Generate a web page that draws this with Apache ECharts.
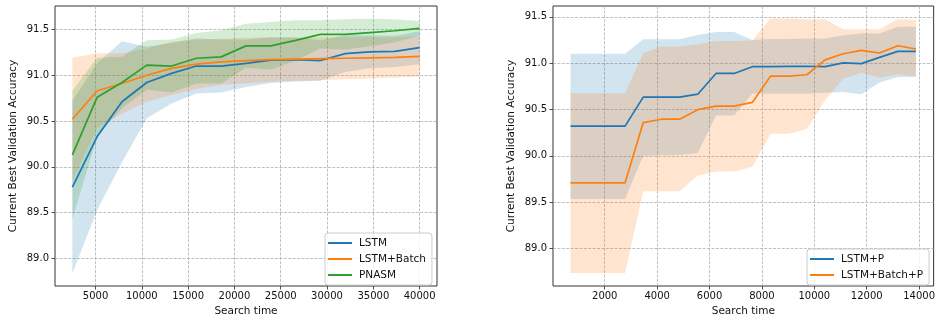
<!DOCTYPE html>
<html><head><meta charset="utf-8">
<script src="https://cdn.jsdelivr.net/npm/echarts@6/dist/echarts.min.js"></script>
<style>html,body{margin:0;padding:0;background:#fff}#c{width:938px;height:322px}</style>
</head><body><div id="c"></div>
<script>
// ---------- Left panel data ----------
const leftTime = [2500, 5179, 7857, 10536, 13214, 15893, 18571, 21250, 23929, 26607, 29286, 31964, 34643, 37321, 40000];
const lstmMean = [89.78, 90.33, 90.71, 90.92, 91.02, 91.10, 91.10, 91.13, 91.165, 91.17, 91.16, 91.235, 91.255, 91.26, 91.30];
const lstmLow  = [88.84, 89.53, 90.05, 90.53, 90.69, 90.80, 90.81, 90.87, 90.915, 90.93, 90.94, 91.035, 91.075, 91.09, 91.12];
const lstmHigh = [90.72, 91.13, 91.37, 91.31, 91.35, 91.40, 91.39, 91.39, 91.415, 91.41, 91.38, 91.435, 91.435, 91.43, 91.48];
const batchMean = [90.52, 90.83, 90.91, 91.00, 91.075, 91.12, 91.145, 91.16, 91.17, 91.175, 91.18, 91.185, 91.19, 91.195, 91.205];
const batchLow  = [89.85, 90.42, 90.58, 90.71, 90.785, 90.85, 90.895, 90.91, 90.93, 90.94, 90.945, 90.955, 90.965, 90.975, 90.985];
const batchHigh = [91.19, 91.24, 91.24, 91.29, 91.365, 91.39, 91.395, 91.41, 91.41, 91.41, 91.415, 91.415, 91.415, 91.415, 91.425];
const pnasmMean = [90.13, 90.76, 90.92, 91.11, 91.10, 91.185, 91.20, 91.32, 91.32, 91.38, 91.445, 91.445, 91.465, 91.485, 91.51];
const pnasmLow  = [89.43, 90.33, 90.64, 90.84, 90.81, 90.91, 90.91, 91.08, 91.06, 91.16, 91.29, 91.28, 91.315, 91.36, 91.43];
const pnasmHigh = [90.83, 91.19, 91.20, 91.38, 91.39, 91.46, 91.49, 91.56, 91.58, 91.60, 91.60, 91.61, 91.615, 91.61, 91.59];
const leftXTicks = [5000, 10000, 15000, 20000, 25000, 30000, 35000, 40000];
const leftYTicks = [89.0, 89.5, 90.0, 90.5, 91.0, 91.5];

// ---------- Right panel data ----------
const rightTime = [694, 1388, 2082, 2776, 3470, 4164, 4858, 5552, 6246, 6940, 7634, 8328, 9022, 9716, 10410, 11104, 11798, 12492, 13186, 13880];
const lstmPMean = [90.32, 90.32, 90.32, 90.32, 90.633, 90.633, 90.633, 90.665, 90.889, 90.889, 90.962, 90.963, 90.966, 90.967, 90.963, 91.003, 90.995, 91.063, 91.127, 91.127];
const lstmPLow  = [89.535, 89.535, 89.535, 89.535, 90.0, 90.005, 90.01, 90.03, 90.434, 90.434, 90.673, 90.67, 90.67, 90.67, 90.68, 90.69, 90.665, 90.79, 90.85, 90.85];
const lstmPHigh = [91.102, 91.102, 91.102, 91.102, 91.258, 91.258, 91.258, 91.305, 91.337, 91.337, 91.25, 91.26, 91.26, 91.266, 91.266, 91.30, 91.32, 91.32, 91.393, 91.393];
const batchPMean = [89.709, 89.709, 89.709, 89.709, 90.359, 90.395, 90.395, 90.498, 90.537, 90.537, 90.576, 90.86, 90.86, 90.875, 91.036, 91.102, 91.138, 91.11, 91.188, 91.153];
const batchPLow  = [88.736, 88.736, 88.736, 88.736, 89.617, 89.617, 89.617, 89.788, 89.83, 89.83, 89.883, 90.238, 90.238, 90.29, 90.60, 90.833, 90.896, 90.843, 90.88, 90.86];
const batchPHigh = [90.676, 90.676, 90.676, 90.676, 91.11, 91.18, 91.18, 91.205, 91.24, 91.24, 91.245, 91.483, 91.483, 91.47, 91.475, 91.366, 91.366, 91.366, 91.475, 91.465];
const rightXTicks = [2000, 4000, 6000, 8000, 10000, 12000, 14000];
const rightYTicks = [89.0, 89.5, 90.0, 90.5, 91.0, 91.5];

// ---------- Styling ----------
const C0 = '#1f77b4', C1 = '#ff7f0e', C2 = '#2ca02c';
const F0 = 'rgba(31,119,180,0.2)', F1 = 'rgba(255,127,14,0.2)', F2 = 'rgba(44,160,44,0.2)';
const FONT = 'DejaVu Sans';
const TXT = '#111';

function pairs(xs, ys) { return xs.map((x, i) => [x, ys[i]]); }

function bandSeries(xs, lo, hi, fill, gi, z) {
  const data = xs.map((x, i) => [x, lo[i], hi[i]]);
  return {
    type: 'custom', xAxisIndex: gi, yAxisIndex: gi, silent: true, z: z,
    data: data, encode: { x: 0, y: [1, 2] },
    renderItem: function (params, api) {
      if (params.dataIndex !== 0) return;
      const top = data.map(d => api.coord([d[0], d[2]]));
      const bot = data.map(d => api.coord([d[0], d[1]])).reverse();
      return { type: 'polygon', shape: { points: top.concat(bot) }, style: { fill: fill } };
    }
  };
}
function lineSeries(name, xs, ys, color, gi, z) {
  return {
    type: 'line', name: name, xAxisIndex: gi, yAxisIndex: gi, data: pairs(xs, ys),
    symbol: 'none', z: z, color: color,
    lineStyle: { color: color, width: 1.7 }
  };
}

function xAxisCfg(gi, min, max, ticks) {
  return {
    gridIndex: gi, type: 'value', min: min, max: max,
    axisLine: { show: false },
    axisTick: { show: true, customValues: ticks, length: 3.5, lineStyle: { color: '#222', width: 0.8 } },
    axisLabel: { customValues: ticks, margin: 5, fontSize: 10, fontFamily: FONT, color: TXT,
      formatter: v => String(Math.round(v)) },
    splitLine: { show: true, lineStyle: { color: '#b0b0b0', width: 0.8, type: [3, 1.4] } },
    name: 'Search time', nameLocation: 'middle', nameGap: 20,
    nameTextStyle: { fontSize: 10.5, fontFamily: FONT, color: TXT }
  };
}
function yAxisCfg(gi, min, max, ticks) {
  return {
    gridIndex: gi, type: 'value', min: min, max: max,
    axisLine: { show: false },
    axisTick: { show: true, customValues: ticks, length: 3.5, lineStyle: { color: '#222', width: 0.8 } },
    axisLabel: { customValues: ticks, margin: 6, fontSize: 10, fontFamily: FONT, color: TXT,
      formatter: v => Number(v).toFixed(1) },
    splitLine: { show: true, lineStyle: { color: '#b0b0b0', width: 0.8, type: [3, 1.4] } },
    name: 'Current Best Validation Accuracy', nameLocation: 'middle', nameGap: 36,
    nameTextStyle: { fontSize: 10.5, fontFamily: FONT, color: TXT }
  };
}
function legendCfg(names, left, top) {
  return {
    data: names, orient: 'vertical', left: left, top: top,
    icon: 'rect', itemWidth: 24, itemHeight: 2, itemGap: 4,
    padding: [4, 6, 4, 3],
    backgroundColor: 'rgba(255,255,255,0.8)', borderColor: '#cccccc', borderWidth: 1, borderRadius: 3,
    textStyle: { fontSize: 10.5, fontFamily: FONT, color: TXT, lineHeight: 12, padding: [0, 0, 0, 2] }
  };
}

const chart = echarts.init(document.getElementById('c'), null, { renderer: 'canvas' });
chart.setOption({
  animation: false,
  backgroundColor: '#fff',
  grid: [
    { left: 55, top: 6, width: 382, height: 283, show: true, borderColor: '#333', borderWidth: 1, backgroundColor: 'transparent' },
    { left: 553, top: 6, width: 382, height: 283, show: true, borderColor: '#333', borderWidth: 1, backgroundColor: 'transparent' }
  ],
  xAxis: [ xAxisCfg(0, 625, 41875, leftXTicks), xAxisCfg(1, 25, 14555, rightXTicks) ],
  yAxis: [ yAxisCfg(0, 88.70, 91.755, leftYTicks), yAxisCfg(1, 88.595, 91.617, rightYTicks) ],
  legend: [
    legendCfg(['LSTM', 'LSTM+Batch', 'PNASM'], 325, 233),
    legendCfg(['LSTM+P', 'LSTM+Batch+P'], 807, 249)
  ],
  series: [
    bandSeries(leftTime, lstmLow, lstmHigh, F0, 0, 1),
    bandSeries(leftTime, batchLow, batchHigh, F1, 0, 1),
    bandSeries(leftTime, pnasmLow, pnasmHigh, F2, 0, 1),
    lineSeries('LSTM', leftTime, lstmMean, C0, 0, 3),
    lineSeries('LSTM+Batch', leftTime, batchMean, C1, 0, 3),
    lineSeries('PNASM', leftTime, pnasmMean, C2, 0, 3),
    bandSeries(rightTime, lstmPLow, lstmPHigh, F0, 1, 1),
    bandSeries(rightTime, batchPLow, batchPHigh, F1, 1, 1),
    lineSeries('LSTM+P', rightTime, lstmPMean, C0, 1, 3),
    lineSeries('LSTM+Batch+P', rightTime, batchPMean, C1, 1, 3)
  ]
});
</script>
</body></html>
